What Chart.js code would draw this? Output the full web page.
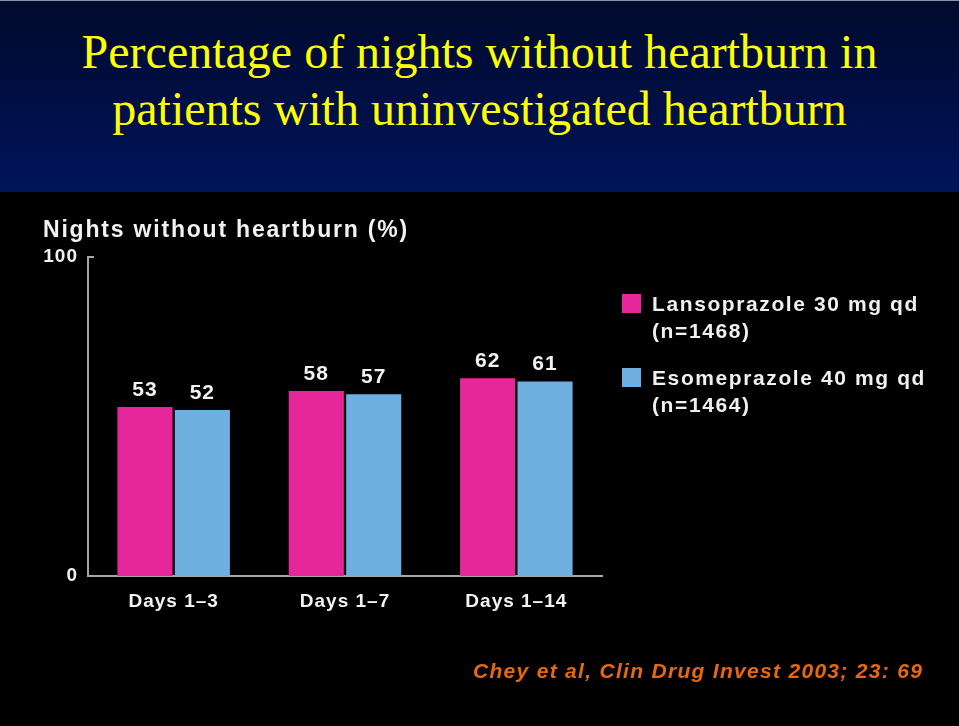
<!DOCTYPE html>
<html>
<head>
<meta charset="utf-8">
<script src="https://cdn.jsdelivr.net/npm/chart.js@4/dist/chart.umd.min.js"></script>
<style>
  html, body { margin:0; padding:0; background:#000; }
  #page { position:relative; width:959px; height:726px; background:#000; overflow:hidden; }
  #banner { position:absolute; left:0; top:0; width:959px; height:192px;
    background:linear-gradient(to bottom, #000a2c 0%, #000f45 55%, #00145a 100%);
    border-top:1px solid #8a93a8; box-sizing:border-box; }
  .tline { position:absolute; left:0; width:959px; text-align:center; color:#ffff00;
    font-family:"Liberation Serif","Times New Roman",serif; font-size:48px; line-height:48px; white-space:nowrap; }
  #cv { position:absolute; left:0; top:0; }
  .txt { position:absolute; font-family:"Liberation Sans",Arial,sans-serif; font-weight:bold; color:#f2f2f2; white-space:nowrap; }
  #ytitle { left:43px; top:216px; font-size:23px; letter-spacing:1.8px; }
  #legend { position:absolute; left:622px; top:290px; }
  .litem { position:absolute; left:0; width:330px; }
  .lsw { position:absolute; left:0; top:4px; width:19px; height:19px; }
  .ltx { position:absolute; left:30px; top:0; font-family:"Liberation Sans",Arial,sans-serif; font-weight:bold;
    color:#f0f0f0; font-size:21px; line-height:27px; letter-spacing:1.6px; white-space:nowrap; }
  #cite { left:473px; top:659px; font-size:21px; font-style:italic; color:#e8680e; letter-spacing:1.3px; }
</style>
</head>
<body>
<div id="page">
  <div id="banner">
    <div class="tline" id="t1" style="top:27px;"></div>
    <div class="tline" id="t2" style="top:84px;"></div>
  </div>
  <canvas id="cv" width="959" height="726"></canvas>
  <div class="txt" id="ytitle"></div>
  <div id="legend"></div>
  <div class="txt" id="cite"></div>
</div>
<script>
// ---- data ----
const titleLines = ['Percentage of nights without heartburn in', 'patients with uninvestigated heartburn'];
const yAxisTitle = 'Nights without heartburn (%)';
const categories = ['Days 1–3', 'Days 1–7', 'Days 1–14'];
const lansoprazole = [53, 58, 62];
const esomeprazole = [52, 57, 61];
const seriesNames = ['Lansoprazole 30 mg qd', 'Esomeprazole 40 mg qd'];
const seriesN = ['(n=1468)', '(n=1464)'];
const yTicks = [0, 100];
const citation = 'Chey et al, Clin Drug Invest 2003; 23: 69';

const colors = ['#e6279a', '#6fafe0'];

document.getElementById('t1').textContent = titleLines[0];
document.getElementById('t2').textContent = titleLines[1];
document.getElementById('ytitle').textContent = yAxisTitle;
document.getElementById('cite').textContent = citation;

const legend = document.getElementById('legend');
[0, 1].forEach(i => {
  const item = document.createElement('div');
  item.className = 'litem';
  item.style.top = (i * 74) + 'px';
  const sw = document.createElement('div');
  sw.className = 'lsw';
  sw.style.background = colors[i];
  const tx = document.createElement('div');
  tx.className = 'ltx';
  tx.appendChild(document.createTextNode(seriesNames[i]));
  tx.appendChild(document.createElement('br'));
  tx.appendChild(document.createTextNode(seriesN[i]));
  item.appendChild(sw);
  item.appendChild(tx);
  legend.appendChild(item);
});

const AXIS = '#a6a6a6';
const FONT = '"Liberation Sans", Arial, sans-serif';

const spacing = {
  id: 'spacing',
  beforeDraw(chart) { chart.ctx.letterSpacing = '1px'; }
};

const valueLabels = {
  id: 'valueLabels',
  afterDatasetsDraw(chart) {
    const ctx = chart.ctx;
    ctx.save();
    ctx.letterSpacing = '1px';
    ctx.font = 'bold 21px ' + FONT;
    ctx.fillStyle = '#f2f2f2';
    ctx.textAlign = 'center';
    ctx.textBaseline = 'middle';
    chart.data.datasets.forEach((ds, di) => {
      chart.getDatasetMeta(di).data.forEach((bar, i) => {
        ctx.fillText(String(ds.data[i]), bar.x, bar.y - 17);
      });
    });
    ctx.restore();
  }
};

const topStub = {
  id: 'topStub',
  afterDraw(chart) {
    const y = chart.scales.y;
    const ctx = chart.ctx;
    const py = y.getPixelForValue(yTicks[yTicks.length - 1]);
    ctx.save();
    ctx.strokeStyle = AXIS;
    ctx.lineWidth = 2;
    ctx.beginPath();
    ctx.moveTo(chart.chartArea.left - 1, py);
    ctx.lineTo(chart.chartArea.left + 6, py);
    ctx.stroke();
    ctx.restore();
  }
};

new Chart(document.getElementById('cv'), {
  type: 'bar',
  data: {
    labels: categories,
    datasets: [
      { label: seriesNames[0] + ' ' + seriesN[0], data: lansoprazole, backgroundColor: colors[0] },
      { label: seriesNames[1] + ' ' + seriesN[1], data: esomeprazole, backgroundColor: colors[1] }
    ]
  },
  options: {
    responsive: false,
    animation: false,
    devicePixelRatio: 1,
    layout: { padding: { left: 0, top: 257, right: 357, bottom: 100 } },
    datasets: { bar: { categoryPercentage: 0.67, barPercentage: 0.96 } },
    plugins: { legend: { display: false }, tooltip: { enabled: false }, title: { display: false } },
    scales: {
      x: {
        grid: { display: false, drawTicks: false },
        border: { display: true, color: AXIS, width: 2 },
        ticks: { color: '#f2f2f2', font: { family: FONT, weight: 'bold', size: 19 }, padding: 14 },
        afterFit(s) { s.height = 50; }
      },
      y: {
        min: yTicks[0], max: yTicks[yTicks.length - 1],
        afterBuildTicks(s) { s.ticks = yTicks.map(v => ({ value: v })); },
        grid: { display: false, drawTicks: false },
        border: { display: true, color: AXIS, width: 2 },
        ticks: { color: '#f2f2f2', font: { family: FONT, weight: 'bold', size: 19 }, padding: 10 },
        afterFit(s) { s.width = 88; }
      }
    }
  },
  plugins: [spacing, valueLabels, topStub]
});
</script>
</body>
</html>
